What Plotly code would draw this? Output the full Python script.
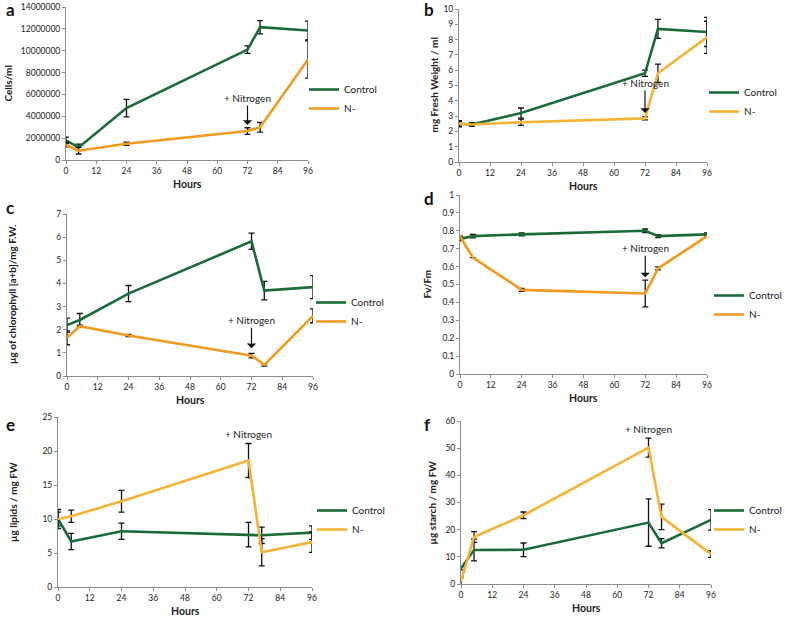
import plotly.graph_objects as go

W, H = 785, 620

hours = [0, 5, 24, 72, 77, 96]
x_ticks = [0, 12, 24, 36, 48, 60, 72, 84, 96]

# Panel a: cells/ml
a_ctrl = [1800000, 1150000, 4750000, 10100000, 12150000, 11850000]
a_ctrl_err = [300000, 300000, 800000, 350000, 600000, 850000]
a_nm = [1400000, 850000, 1480000, 2650000, 3000000, 9200000]
a_nm_err = [200000, 300000, 150000, 300000, 450000, 1700000]

# Panel b: mg fresh weight / ml
b_ctrl = [2.5, 2.45, 3.2, 5.8, 8.7, 8.5]
b_ctrl_err = [0.2, 0.1, 0.33, 0.2, 0.62, 0.95]
b_nm = [2.5, 2.45, 2.6, 2.85, 5.8, 8.15]
b_nm_err = [0.15, 0.1, 0.2, 0.1, 0.6, 1.05]

# Panel c: chlorophyll
c_ctrl = [2.2, 2.42, 3.56, 5.82, 3.69, 3.84]
c_ctrl_err = [0.3, 0.28, 0.35, 0.35, 0.4, 0.5]
c_nm = [1.65, 2.15, 1.75, 0.88, 0.48, 2.6]
c_nm_err = [0.3, 0.05, 0.05, 0.1, 0.05, 0.3]

# Panel d: Fv/Fm
d_ctrl = [0.755, 0.77, 0.78, 0.80, 0.77, 0.78]
d_ctrl_err = [0.01, 0.01, 0.008, 0.01, 0.008, 0.008]
d_nm = [0.77, 0.65, 0.47, 0.45, 0.59, 0.77]
d_nm_err = [0.0, 0.0, 0.008, 0.075, 0.008, 0.0]

# Panel e: lipids
e_ctrl = [10.0, 6.7, 8.2, 7.7, 7.6, 8.0]
e_ctrl_err = [1.0, 1.2, 1.2, 1.8, 1.2, 1.0]
e_nm = [10.0, 10.4, 12.6, 18.6, 5.1, 6.6]
e_nm_err = [1.4, 0.9, 1.6, 2.5, 2.0, 1.5]

# Panel f: starch
f_ctrl = [5.8, 12.5, 12.6, 22.6, 15.0, 23.6]
f_ctrl_err = [0.6, 4.0, 2.5, 8.7, 1.7, 3.8]
f_nm = [1.0, 17.3, 25.3, 50.2, 24.7, 11.0]
f_nm_err = [1.5, 2.0, 1.2, 3.5, 4.7, 1.2]

GREEN = "#1b6b3a"
ORANGE = "#f39a1e"
YELLOW = "#f5b335"
FONT = "Lato"

panels = [
    dict(lab="a", c=a_ctrl, ce=a_ctrl_err, n=a_nm, ne=a_nm_err, col=ORANGE, yt="Cells/ml",
         yr=[0, 14000000], dt=2000000, dom=(66, 308, 7, 160), leg=(304, 99), ytx=8,
         ann=dict(y=3200000, ay=-27)),
    dict(lab="b", c=b_ctrl, ce=b_ctrl_err, n=b_nm, ne=b_nm_err, col=YELLOW, yt="mg Fresh Weight / ml",
         yr=[0, 10], dt=1, dom=(459, 707, 9, 162), leg=(704, 102), ytx=433,
         ann=dict(y=3.2, ay=-30)),
    dict(lab="c", c=c_ctrl, ce=c_ctrl_err, n=c_nm, ne=c_nm_err, col=ORANGE, yt="\u00b5g of chlorophyll [a+b]/mg F.W.",
         yr=[0, 7], dt=1, dom=(67, 313, 214, 376), leg=(311, 312), ytx=12,
         ann=dict(y=1.2, ay=-28)),
    dict(lab="d", c=d_ctrl, ce=d_ctrl_err, n=d_nm, ne=d_nm_err, col=ORANGE, yt="Fv/Fm",
         yr=[0, 1], dt=0.1, dom=(460, 707, 195, 374), leg=(709, 305), ytx=426,
         ann=dict(y=0.54, ay=-29)),
    dict(lab="e", c=e_ctrl, ce=e_ctrl_err, n=e_nm, ne=e_nm_err, col=YELLOW, yt="\u00b5g lipids / mg FW",
         yr=[0, 25], dt=5, dom=(58, 312, 417, 587), leg=(312, 520), ytx=13,
         ann=dict(y=22.5, ay=None)),
    dict(lab="f", c=f_ctrl, ce=f_ctrl_err, n=f_nm, ne=f_nm_err, col=YELLOW, yt="\u00b5g starch / mg FW",
         yr=[0, 60], dt=10, dom=(461, 711, 421, 584), leg=(709, 520), ytx=432,
         ann=dict(y=57, ay=None)),
]
letter_pos = {"a": (4, 10), "b": (422, 10), "c": (4, 208), "d": (422, 198), "e": (4, 425), "f": (422, 424)}

fig = go.Figure()
annotations = []
layout = dict(
    width=W, height=H, margin=dict(l=0, r=0, t=0, b=0, autoexpand=False),
    paper_bgcolor="white", plot_bgcolor="white",
    font=dict(family=FONT, size=9, color="#222"),
)

axis_col = "#8c8c8c"
for i, p in enumerate(panels):
    k = "" if i == 0 else str(i + 1)
    xa, ya = "x" + k, "y" + k
    lg = "legend" if i == 0 else "legend" + str(i + 1)
    x0, x1, yt, yb = p["dom"]
    err_c = dict(type="data", visible=True, color="#111", thickness=1.3, width=3)
    fig.add_trace(go.Scatter(x=hours, y=p["c"], mode="lines", name="Control",
                             line=dict(color=GREEN, width=2.6),
                             error_y=dict(array=p["ce"], **err_c),
                             xaxis=xa, yaxis=ya, legend=lg))
    fig.add_trace(go.Scatter(x=hours, y=p["n"], mode="lines", name="N-",
                             line=dict(color=p["col"], width=2.6),
                             error_y=dict(array=p["ne"], **err_c),
                             xaxis=xa, yaxis=ya, legend=lg))
    common = dict(showline=True, linecolor=axis_col, linewidth=1, ticks="outside",
                  ticklen=3, tickcolor=axis_col, showgrid=False, zeroline=False,
                  automargin=False,
                  tickfont=dict(family=FONT, size=8.5, color="#222"))
    layout["xaxis" + k] = dict(domain=[x0 / W, x1 / W], range=[0, 96], tickvals=x_ticks,
                               anchor=ya, **common)
    layout["yaxis" + k] = dict(domain=[1 - yb / H, 1 - yt / H], range=p["yr"], dtick=p["dt"],
                               tick0=0, tickformat="d" if i == 0 else None, anchor=xa, **common)
    layout[lg] = dict(x=p["leg"][0] / W, y=1 - p["leg"][1] / H, xanchor="left", yanchor="middle",
                      bgcolor="rgba(0,0,0,0)", font=dict(family=FONT, size=10, color="#222"),
                      itemwidth=30, tracegroupgap=0, traceorder="normal")
    lx, ly = letter_pos[p["lab"]]
    annotations.append(dict(text="<b>%s</b>" % p["lab"], xref="paper", yref="paper",
                            x=lx / W, y=1 - ly / H,
                            xanchor="left", yanchor="middle", showarrow=False,
                            font=dict(family=FONT, size=17, color="#111")))
    annotations.append(dict(text="<b>%s</b>" % p["yt"], xref="paper", yref="paper",
                            x=p["ytx"] / W, y=1 - ((yt + yb) / 2) / H, textangle=-90,
                            xanchor="center", yanchor="middle", showarrow=False,
                            font=dict(family=FONT, size=10, color="#222")))
    annotations.append(dict(text="<b>Hours</b>", xref=xa + " domain", yref="paper",
                            x=0.5, y=1 - (yb + 24) / H, xanchor="center", yanchor="middle",
                            showarrow=False, font=dict(family=FONT, size=10.5, color="#222")))
    a = p["ann"]
    if a["ay"] is not None:
        annotations.append(dict(text="+ Nitrogen", x=72, y=a["y"], xref=xa, yref=ya,
                                showarrow=True, ax=0, ay=a["ay"], arrowhead=1, arrowsize=1.3,
                                arrowwidth=1.2, arrowcolor="#111", standoff=0,
                                font=dict(family=FONT, size=10, color="#222")))
    else:
        annotations.append(dict(text="+ Nitrogen", x=72, y=a["y"], xref=xa, yref=ya,
                                showarrow=False, font=dict(family=FONT, size=10, color="#222")))

layout["annotations"] = annotations
fig.update_layout(**layout)
fig.write_html("out.html", config={"displayModeBar": False},
               post_script="document.body.style.margin='0px';")
